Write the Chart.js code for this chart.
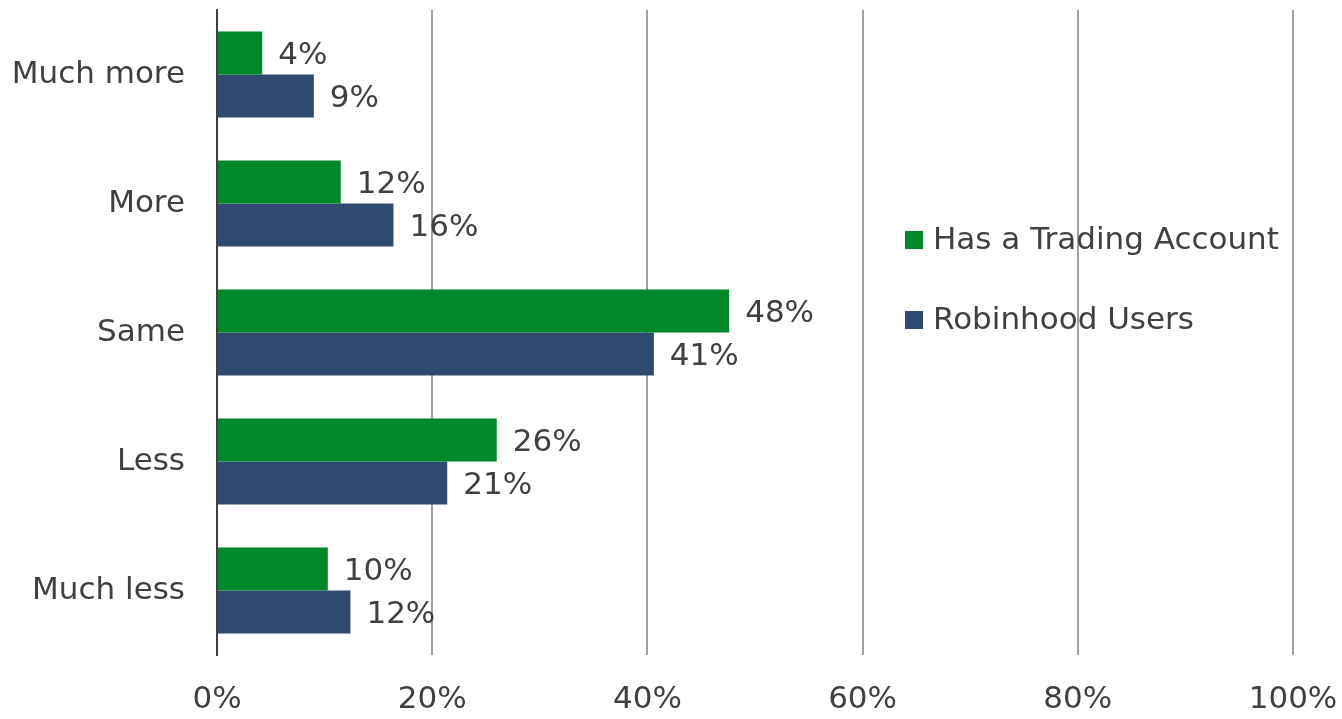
<!DOCTYPE html>
<html>
<head>
<meta charset="utf-8">
<script src="https://cdn.jsdelivr.net/npm/chart.js@4/dist/chart.umd.min.js"></script>
<style>
  html, body { margin: 0; padding: 0; background: #fff; }
  #wrap { width: 1342px; height: 719px; position: relative; }
</style>
</head>
<body>
<div id="wrap"><canvas id="chart" width="1342" height="719"></canvas></div>
<script>
// Данные графика
const categories = ['Much more', 'More', 'Same', 'Less', 'Much less'];
const tradingValues = [4.2, 11.5, 47.6, 26.0, 10.3];
const robinhoodValues = [9.0, 16.4, 40.6, 21.4, 12.4];
const seriesNames = ['Has a Trading Account', 'Robinhood Users'];
const seriesColors = ['#00882b', '#2e4a6e'];

const fontFamily = '"DejaVu Sans", Verdana, sans-serif';
const fontSize = 31;
const textColor = '#404040';

// Подписи значений справа от столбцов
const valueLabels = {
  id: 'valueLabels',
  afterDatasetsDraw(chart) {
    const ctx = chart.ctx;
    ctx.save();
    ctx.font = fontSize + 'px ' + fontFamily;
    ctx.fillStyle = textColor;
    ctx.textAlign = 'left';
    ctx.textBaseline = 'middle';
    chart.data.datasets.forEach((ds, i) => {
      chart.getDatasetMeta(i).data.forEach((bar, j) => {
        ctx.fillText(Math.round(ds.data[j]) + '%', bar.x + 16, bar.y + 3);
      });
    });
    ctx.restore();
  }
};

// Легенда внутри области графика
const sideLegend = {
  id: 'sideLegend',
  afterDraw(chart) {
    const ctx = chart.ctx;
    ctx.save();
    ctx.font = fontSize + 'px ' + fontFamily;
    ctx.textAlign = 'left';
    ctx.textBaseline = 'middle';
    const rows = [240, 320];
    seriesNames.forEach((name, i) => {
      ctx.fillStyle = seriesColors[i];
      ctx.fillRect(905, rows[i] - 9, 18, 18);
      ctx.fillStyle = textColor;
      ctx.fillText(name, 933, rows[i] + 1);
    });
    ctx.restore();
  }
};

new Chart(document.getElementById('chart'), {
  type: 'bar',
  data: {
    labels: categories,
    datasets: [
      {
        label: seriesNames[0],
        data: tradingValues,
        backgroundColor: seriesColors[0],
        categoryPercentage: 0.667,
        barPercentage: 1.0
      },
      {
        label: seriesNames[1],
        data: robinhoodValues,
        backgroundColor: seriesColors[1],
        categoryPercentage: 0.667,
        barPercentage: 1.0
      }
    ]
  },
  options: {
    indexAxis: 'y',
    responsive: false,
    animation: false,
    layout: { padding: { top: 10, right: 49, bottom: 0, left: 0 } },
    plugins: {
      legend: { display: false },
      tooltip: { enabled: false }
    },
    scales: {
      x: {
        min: 0,
        max: 100,
        afterFit(scale) {
          scale.height = 64;
          scale.paddingLeft = 0;
          scale.paddingRight = 0;
        },
        ticks: {
          stepSize: 20,
          color: textColor,
          font: { family: fontFamily, size: fontSize },
          padding: 26,
          callback: v => v + '%'
        },
        grid: {
          color: '#a0a0a0',
          lineWidth: 2,
          drawTicks: false
        },
        border: { display: false }
      },
      y: {
        afterFit(scale) {
          scale.width = 217;
          scale.paddingTop = 0;
          scale.paddingBottom = 0;
        },
        ticks: {
          color: textColor,
          font: { family: fontFamily, size: fontSize },
          padding: 32
        },
        grid: { display: false, drawTicks: false },
        border: { display: true, color: '#404040', width: 2 }
      }
    }
  },
  plugins: [valueLabels, sideLegend]
});
</script>
</body>
</html>
